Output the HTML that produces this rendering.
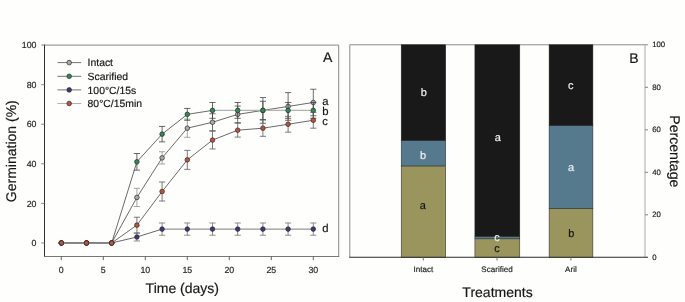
<!DOCTYPE html>
<html lang="en"><head><meta charset="utf-8"><title>Germination figure</title>
<style>html,body{margin:0;padding:0;background:#fefefd}svg{display:block;filter:blur(0.3px)}</style></head>
<body>
<svg width="685" height="302" viewBox="0 0 685 302" text-rendering="geometricPrecision" font-family="'Liberation Sans', sans-serif">
<rect width="685" height="302" fill="#fefefd"/>
<path d="M44.5 45.1H338.7V256.5" fill="none" stroke="#808080" stroke-width="0.95"/>
<path d="M44.5 44.6V256.5" fill="none" stroke="#2e2e2e" stroke-width="1"/>
<path d="M44.0 256.5H339.2" fill="none" stroke="#5e5e5e" stroke-width="0.85"/>
<path d="M41.3 242.95H44.5" stroke="#777" stroke-width="0.9"/>
<text x="36.5" y="246.15" font-size="8.8" text-anchor="end" fill="#262626" stroke="#262626" stroke-width="0.18">0</text>
<path d="M41.3 203.38H44.5" stroke="#777" stroke-width="0.9"/>
<text x="36.5" y="206.58" font-size="8.8" text-anchor="end" fill="#262626" stroke="#262626" stroke-width="0.18">20</text>
<path d="M41.3 163.81H44.5" stroke="#777" stroke-width="0.9"/>
<text x="36.5" y="167.01" font-size="8.8" text-anchor="end" fill="#262626" stroke="#262626" stroke-width="0.18">40</text>
<path d="M41.3 124.24H44.5" stroke="#777" stroke-width="0.9"/>
<text x="36.5" y="127.44" font-size="8.8" text-anchor="end" fill="#262626" stroke="#262626" stroke-width="0.18">60</text>
<path d="M41.3 84.67H44.5" stroke="#777" stroke-width="0.9"/>
<text x="36.5" y="87.87" font-size="8.8" text-anchor="end" fill="#262626" stroke="#262626" stroke-width="0.18">80</text>
<path d="M41.3 45.10H44.5" stroke="#777" stroke-width="0.9"/>
<text x="36.5" y="48.30" font-size="8.8" text-anchor="end" fill="#262626" stroke="#262626" stroke-width="0.18">100</text>
<path d="M61.30 256.5V260.1" stroke="#555" stroke-width="0.9"/>
<text x="61.30" y="272.8" font-size="8.8" text-anchor="middle" fill="#262626" stroke="#262626" stroke-width="0.18">0</text>
<path d="M103.30 256.5V260.1" stroke="#555" stroke-width="0.9"/>
<text x="103.30" y="272.8" font-size="8.8" text-anchor="middle" fill="#262626" stroke="#262626" stroke-width="0.18">5</text>
<path d="M145.30 256.5V260.1" stroke="#555" stroke-width="0.9"/>
<text x="145.30" y="272.8" font-size="8.8" text-anchor="middle" fill="#262626" stroke="#262626" stroke-width="0.18">10</text>
<path d="M187.30 256.5V260.1" stroke="#555" stroke-width="0.9"/>
<text x="187.30" y="272.8" font-size="8.8" text-anchor="middle" fill="#262626" stroke="#262626" stroke-width="0.18">15</text>
<path d="M229.30 256.5V260.1" stroke="#555" stroke-width="0.9"/>
<text x="229.30" y="272.8" font-size="8.8" text-anchor="middle" fill="#262626" stroke="#262626" stroke-width="0.18">20</text>
<path d="M271.30 256.5V260.1" stroke="#555" stroke-width="0.9"/>
<text x="271.30" y="272.8" font-size="8.8" text-anchor="middle" fill="#262626" stroke="#262626" stroke-width="0.18">25</text>
<path d="M313.30 256.5V260.1" stroke="#555" stroke-width="0.9"/>
<text x="313.30" y="272.8" font-size="8.8" text-anchor="middle" fill="#262626" stroke="#262626" stroke-width="0.18">30</text>
<text x="182.3" y="292.6" font-size="14" text-anchor="middle" fill="#181818" stroke="#181818" stroke-width="0.18">Time (days)</text>
<text transform="translate(16.4 151.2) rotate(-90)" font-size="14" text-anchor="middle" fill="#181818" stroke="#181818" stroke-width="0.18">Germination (%)</text>
<text x="323" y="62.3" font-size="14" fill="#181818" stroke="#181818" stroke-width="0.18">A</text>
<path d="M61.30 242.95L86.50 242.95" stroke="#7d7d7d" stroke-width="1"/>
<path d="M86.50 242.95L111.70 242.95" stroke="#7d7d7d" stroke-width="1"/>
<path d="M111.70 242.95L136.90 197.44" stroke="#2a2a2a" stroke-width="0.7"/>
<path d="M136.90 197.44L162.10 157.87" stroke="#2a2a2a" stroke-width="0.7"/>
<path d="M162.10 157.87L187.30 128.20" stroke="#2a2a2a" stroke-width="0.7"/>
<path d="M187.30 128.20L212.50 122.26" stroke="#2a2a2a" stroke-width="0.7"/>
<path d="M212.50 122.26L237.70 114.35" stroke="#2a2a2a" stroke-width="0.7"/>
<path d="M237.70 114.35L262.90 110.39" stroke="#2a2a2a" stroke-width="0.7"/>
<path d="M262.90 110.39L288.10 106.43" stroke="#2a2a2a" stroke-width="0.7"/>
<path d="M288.10 106.43L313.30 102.48" stroke="#2a2a2a" stroke-width="0.7"/>
<path d="M136.90 188.34V206.55M133.80 188.34h6.2M133.80 206.55h6.2" fill="none" stroke="#8f8f8f" stroke-width="0.8"/>
<path d="M162.10 151.74V164.01M159.00 151.74h6.2M159.00 164.01h6.2" fill="none" stroke="#8f8f8f" stroke-width="0.8"/>
<path d="M187.30 119.10V137.30M184.20 119.10h6.2M184.20 137.30h6.2" fill="none" stroke="#8f8f8f" stroke-width="0.8"/>
<path d="M212.50 113.75V130.77M209.40 113.75h6.2M209.40 130.77h6.2" fill="none" stroke="#4a4a4a" stroke-width="0.8"/>
<path d="M237.70 106.04V122.66M234.60 106.04h6.2M234.60 122.66h6.2" fill="none" stroke="#4a4a4a" stroke-width="0.8"/>
<path d="M262.90 97.53V123.25M259.80 97.53h6.2M259.80 123.25h6.2" fill="none" stroke="#4a4a4a" stroke-width="0.8"/>
<path d="M288.10 92.58V120.28M285.00 92.58h6.2M285.00 120.28h6.2" fill="none" stroke="#4a4a4a" stroke-width="0.8"/>
<path d="M313.30 89.22V115.73M310.20 89.22h6.2M310.20 115.73h6.2" fill="none" stroke="#4a4a4a" stroke-width="0.8"/>
<circle cx="61.30" cy="242.95" r="2.3" fill="#a9a9a9" stroke="#2a2a2a" stroke-width="0.7"/>
<circle cx="86.50" cy="242.95" r="2.3" fill="#a9a9a9" stroke="#2a2a2a" stroke-width="0.7"/>
<circle cx="111.70" cy="242.95" r="2.3" fill="#a9a9a9" stroke="#2a2a2a" stroke-width="0.7"/>
<circle cx="136.90" cy="197.44" r="2.3" fill="#a9a9a9" stroke="#2a2a2a" stroke-width="0.7"/>
<circle cx="162.10" cy="157.87" r="2.3" fill="#a9a9a9" stroke="#2a2a2a" stroke-width="0.7"/>
<circle cx="187.30" cy="128.20" r="2.3" fill="#a9a9a9" stroke="#2a2a2a" stroke-width="0.7"/>
<circle cx="212.50" cy="122.26" r="2.3" fill="#a9a9a9" stroke="#2a2a2a" stroke-width="0.7"/>
<circle cx="237.70" cy="114.35" r="2.3" fill="#a9a9a9" stroke="#2a2a2a" stroke-width="0.7"/>
<circle cx="262.90" cy="110.39" r="2.3" fill="#a9a9a9" stroke="#2a2a2a" stroke-width="0.7"/>
<circle cx="288.10" cy="106.43" r="2.3" fill="#a9a9a9" stroke="#2a2a2a" stroke-width="0.7"/>
<circle cx="313.30" cy="102.48" r="2.3" fill="#a9a9a9" stroke="#2a2a2a" stroke-width="0.7"/>
<path d="M61.30 242.95L86.50 242.95" stroke="#7d7d7d" stroke-width="1"/>
<path d="M86.50 242.95L111.70 242.95" stroke="#7d7d7d" stroke-width="1"/>
<path d="M111.70 242.95L136.90 161.83" stroke="#2a2a2a" stroke-width="0.7"/>
<path d="M136.90 161.83L162.10 134.13" stroke="#2a2a2a" stroke-width="0.7"/>
<path d="M162.10 134.13L187.30 114.35" stroke="#2a2a2a" stroke-width="0.7"/>
<path d="M187.30 114.35L212.50 110.39" stroke="#2a2a2a" stroke-width="0.7"/>
<path d="M212.50 110.39L237.70 110.39" stroke="#b2b2b2" stroke-width="1.3"/>
<path d="M237.70 110.39L262.90 110.39" stroke="#b2b2b2" stroke-width="1.3"/>
<path d="M262.90 110.39L288.10 110.39" stroke="#b2b2b2" stroke-width="1.3"/>
<path d="M288.10 110.39L313.30 110.39" stroke="#b2b2b2" stroke-width="1.3"/>
<path d="M136.90 153.52V170.14M133.80 153.52h6.2M133.80 170.14h6.2" fill="none" stroke="#404040" stroke-width="0.8"/>
<path d="M162.10 126.42V141.85M159.00 126.42h6.2M159.00 141.85h6.2" fill="none" stroke="#404040" stroke-width="0.8"/>
<path d="M187.30 108.41V120.28M184.20 108.41h6.2M184.20 120.28h6.2" fill="none" stroke="#404040" stroke-width="0.8"/>
<path d="M212.50 102.48V118.30M209.40 102.48h6.2M209.40 118.30h6.2" fill="none" stroke="#404040" stroke-width="0.8"/>
<path d="M237.70 102.48V118.30M234.60 102.48h6.2M234.60 118.30h6.2" fill="none" stroke="#404040" stroke-width="0.8"/>
<path d="M262.90 101.29V119.49M259.80 101.29h6.2M259.80 119.49h6.2" fill="none" stroke="#404040" stroke-width="0.8"/>
<path d="M288.10 102.48V118.30M285.00 102.48h6.2M285.00 118.30h6.2" fill="none" stroke="#404040" stroke-width="0.8"/>
<path d="M313.30 102.48V118.30M310.20 102.48h6.2M310.20 118.30h6.2" fill="none" stroke="#404040" stroke-width="0.8"/>
<circle cx="61.30" cy="242.95" r="2.3" fill="#2e8b52" stroke="#2a2a2a" stroke-width="0.7"/>
<circle cx="86.50" cy="242.95" r="2.3" fill="#2e8b52" stroke="#2a2a2a" stroke-width="0.7"/>
<circle cx="111.70" cy="242.95" r="2.3" fill="#2e8b52" stroke="#2a2a2a" stroke-width="0.7"/>
<circle cx="136.90" cy="161.83" r="2.3" fill="#2e8b52" stroke="#2a2a2a" stroke-width="0.7"/>
<circle cx="162.10" cy="134.13" r="2.3" fill="#2e8b52" stroke="#2a2a2a" stroke-width="0.7"/>
<circle cx="187.30" cy="114.35" r="2.3" fill="#2e8b52" stroke="#2a2a2a" stroke-width="0.7"/>
<circle cx="212.50" cy="110.39" r="2.3" fill="#2e8b52" stroke="#2a2a2a" stroke-width="0.7"/>
<circle cx="237.70" cy="110.39" r="2.3" fill="#2e8b52" stroke="#2a2a2a" stroke-width="0.7"/>
<circle cx="262.90" cy="110.39" r="2.3" fill="#2e8b52" stroke="#2a2a2a" stroke-width="0.7"/>
<circle cx="288.10" cy="110.39" r="2.3" fill="#2e8b52" stroke="#2a2a2a" stroke-width="0.7"/>
<circle cx="313.30" cy="110.39" r="2.3" fill="#2e8b52" stroke="#2a2a2a" stroke-width="0.7"/>
<path d="M61.30 242.95L86.50 242.95" stroke="#7d7d7d" stroke-width="1"/>
<path d="M86.50 242.95L111.70 242.95" stroke="#7d7d7d" stroke-width="1"/>
<path d="M111.70 242.95L136.90 237.01" stroke="#2a2a2a" stroke-width="0.7"/>
<path d="M136.90 237.01L162.10 229.10" stroke="#2a2a2a" stroke-width="0.7"/>
<path d="M162.10 229.10L187.30 229.10" stroke="#7d7d7d" stroke-width="1"/>
<path d="M187.30 229.10L212.50 229.10" stroke="#7d7d7d" stroke-width="1"/>
<path d="M212.50 229.10L237.70 229.10" stroke="#7d7d7d" stroke-width="1"/>
<path d="M237.70 229.10L262.90 229.10" stroke="#7d7d7d" stroke-width="1"/>
<path d="M262.90 229.10L288.10 229.10" stroke="#7d7d7d" stroke-width="1"/>
<path d="M288.10 229.10L313.30 229.10" stroke="#7d7d7d" stroke-width="1"/>
<path d="M136.90 233.06V240.97M133.80 233.06h6.2M133.80 240.97h6.2" fill="none" stroke="#707070" stroke-width="0.8"/>
<path d="M162.10 222.97V235.23M159.00 222.97h6.2M159.00 235.23h6.2" fill="none" stroke="#707070" stroke-width="0.8"/>
<path d="M187.30 222.97V235.23M184.20 222.97h6.2M184.20 235.23h6.2" fill="none" stroke="#707070" stroke-width="0.8"/>
<path d="M212.50 222.97V235.23M209.40 222.97h6.2M209.40 235.23h6.2" fill="none" stroke="#707070" stroke-width="0.8"/>
<path d="M237.70 222.97V235.23M234.60 222.97h6.2M234.60 235.23h6.2" fill="none" stroke="#707070" stroke-width="0.8"/>
<path d="M262.90 222.97V235.23M259.80 222.97h6.2M259.80 235.23h6.2" fill="none" stroke="#707070" stroke-width="0.8"/>
<path d="M288.10 222.97V235.23M285.00 222.97h6.2M285.00 235.23h6.2" fill="none" stroke="#707070" stroke-width="0.8"/>
<path d="M313.30 222.97V235.23M310.20 222.97h6.2M310.20 235.23h6.2" fill="none" stroke="#707070" stroke-width="0.8"/>
<circle cx="61.30" cy="242.95" r="2.3" fill="#46337f" stroke="#2a2a2a" stroke-width="0.7"/>
<circle cx="86.50" cy="242.95" r="2.3" fill="#46337f" stroke="#2a2a2a" stroke-width="0.7"/>
<circle cx="111.70" cy="242.95" r="2.3" fill="#46337f" stroke="#2a2a2a" stroke-width="0.7"/>
<circle cx="136.90" cy="237.01" r="2.3" fill="#46337f" stroke="#2a2a2a" stroke-width="0.7"/>
<circle cx="162.10" cy="229.10" r="2.3" fill="#46337f" stroke="#2a2a2a" stroke-width="0.7"/>
<circle cx="187.30" cy="229.10" r="2.3" fill="#46337f" stroke="#2a2a2a" stroke-width="0.7"/>
<circle cx="212.50" cy="229.10" r="2.3" fill="#46337f" stroke="#2a2a2a" stroke-width="0.7"/>
<circle cx="237.70" cy="229.10" r="2.3" fill="#46337f" stroke="#2a2a2a" stroke-width="0.7"/>
<circle cx="262.90" cy="229.10" r="2.3" fill="#46337f" stroke="#2a2a2a" stroke-width="0.7"/>
<circle cx="288.10" cy="229.10" r="2.3" fill="#46337f" stroke="#2a2a2a" stroke-width="0.7"/>
<circle cx="313.30" cy="229.10" r="2.3" fill="#46337f" stroke="#2a2a2a" stroke-width="0.7"/>
<path d="M61.30 242.95L86.50 242.95" stroke="#7d7d7d" stroke-width="1"/>
<path d="M86.50 242.95L111.70 242.95" stroke="#7d7d7d" stroke-width="1"/>
<path d="M111.70 242.95L136.90 225.14" stroke="#2a2a2a" stroke-width="0.7"/>
<path d="M136.90 225.14L162.10 191.51" stroke="#2a2a2a" stroke-width="0.7"/>
<path d="M162.10 191.51L187.30 159.85" stroke="#2a2a2a" stroke-width="0.7"/>
<path d="M187.30 159.85L212.50 140.07" stroke="#2a2a2a" stroke-width="0.7"/>
<path d="M212.50 140.07L237.70 130.18" stroke="#2a2a2a" stroke-width="0.7"/>
<path d="M237.70 130.18L262.90 128.20" stroke="#2a2a2a" stroke-width="0.7"/>
<path d="M262.90 128.20L288.10 124.24" stroke="#2a2a2a" stroke-width="0.7"/>
<path d="M288.10 124.24L313.30 120.28" stroke="#2a2a2a" stroke-width="0.7"/>
<path d="M136.90 217.23V233.06M133.80 217.23h6.2M133.80 233.06h6.2" fill="none" stroke="#5a5a5a" stroke-width="0.8"/>
<path d="M162.10 182.01V201.01M159.00 182.01h6.2M159.00 201.01h6.2" fill="none" stroke="#5a5a5a" stroke-width="0.8"/>
<path d="M187.30 150.36V169.35M184.20 150.36h6.2M184.20 169.35h6.2" fill="none" stroke="#5a5a5a" stroke-width="0.8"/>
<path d="M212.50 131.16V148.97M209.40 131.16h6.2M209.40 148.97h6.2" fill="none" stroke="#5a5a5a" stroke-width="0.8"/>
<path d="M237.70 123.25V137.10M234.60 123.25h6.2M234.60 137.10h6.2" fill="none" stroke="#5a5a5a" stroke-width="0.8"/>
<path d="M262.90 120.09V136.31M259.80 120.09h6.2M259.80 136.31h6.2" fill="none" stroke="#5a5a5a" stroke-width="0.8"/>
<path d="M288.10 116.33V132.15M285.00 116.33h6.2M285.00 132.15h6.2" fill="none" stroke="#5a5a5a" stroke-width="0.8"/>
<path d="M313.30 112.37V128.20M310.20 112.37h6.2M310.20 128.20h6.2" fill="none" stroke="#5a5a5a" stroke-width="0.8"/>
<circle cx="61.30" cy="242.95" r="2.3" fill="#c44f33" stroke="#2a2a2a" stroke-width="0.7"/>
<circle cx="86.50" cy="242.95" r="2.3" fill="#c44f33" stroke="#2a2a2a" stroke-width="0.7"/>
<circle cx="111.70" cy="242.95" r="2.3" fill="#c44f33" stroke="#2a2a2a" stroke-width="0.7"/>
<circle cx="136.90" cy="225.14" r="2.3" fill="#c44f33" stroke="#2a2a2a" stroke-width="0.7"/>
<circle cx="162.10" cy="191.51" r="2.3" fill="#c44f33" stroke="#2a2a2a" stroke-width="0.7"/>
<circle cx="187.30" cy="159.85" r="2.3" fill="#c44f33" stroke="#2a2a2a" stroke-width="0.7"/>
<circle cx="212.50" cy="140.07" r="2.3" fill="#c44f33" stroke="#2a2a2a" stroke-width="0.7"/>
<circle cx="237.70" cy="130.18" r="2.3" fill="#c44f33" stroke="#2a2a2a" stroke-width="0.7"/>
<circle cx="262.90" cy="128.20" r="2.3" fill="#c44f33" stroke="#2a2a2a" stroke-width="0.7"/>
<circle cx="288.10" cy="124.24" r="2.3" fill="#c44f33" stroke="#2a2a2a" stroke-width="0.7"/>
<circle cx="313.30" cy="120.28" r="2.3" fill="#c44f33" stroke="#2a2a2a" stroke-width="0.7"/>
<path d="M57.4 62.6H81.2" stroke="#5c5c5c" stroke-width="0.85"/>
<circle cx="69.2" cy="62.6" r="2.3" fill="#a9a9a9" stroke="#2a2a2a" stroke-width="0.7"/>
<text x="87.6" y="66.40" font-size="10.4" fill="#181818" stroke="#181818" stroke-width="0.18">Intact</text>
<path d="M57.4 76.3H81.2" stroke="#5c5c5c" stroke-width="0.85"/>
<circle cx="69.2" cy="76.3" r="2.3" fill="#2e8b52" stroke="#2a2a2a" stroke-width="0.7"/>
<text x="87.6" y="80.10" font-size="10.4" fill="#181818" stroke="#181818" stroke-width="0.18">Scarified</text>
<path d="M57.4 89.9H81.2" stroke="#5c5c5c" stroke-width="0.85"/>
<circle cx="69.2" cy="89.9" r="2.3" fill="#46337f" stroke="#2a2a2a" stroke-width="0.7"/>
<text x="87.6" y="93.70" font-size="10.4" fill="#181818" stroke="#181818" stroke-width="0.18">100°C/15s</text>
<path d="M57.4 103.5H81.2" stroke="#a4a4a4" stroke-width="0.85"/>
<circle cx="69.2" cy="103.5" r="2.3" fill="#c44f33" stroke="#2a2a2a" stroke-width="0.7"/>
<text x="87.6" y="107.30" font-size="10.4" fill="#181818" stroke="#181818" stroke-width="0.18">80°C/15min</text>
<text x="322.2" y="104.6" font-size="11.3" fill="#181818" stroke="#181818" stroke-width="0.18">a</text>
<text x="322.2" y="115.3" font-size="11.3" fill="#181818" stroke="#181818" stroke-width="0.18">b</text>
<text x="322.2" y="124.5" font-size="11.3" fill="#181818" stroke="#181818" stroke-width="0.18">c</text>
<text x="322.2" y="231.9" font-size="11.3" fill="#181818" stroke="#181818" stroke-width="0.18">d</text>
<path d="M349.8 257.3V44.8H648.0" fill="none" stroke="#8c8c8c" stroke-width="1"/>
<path d="M645.0 44.8V257.3" fill="none" stroke="#a0a0a0" stroke-width="0.9"/>
<rect x="401.2" y="165.93" width="44.50" height="91.38" fill="#99955d" stroke="#222" stroke-width="0.5"/>
<rect x="401.2" y="140.43" width="44.50" height="25.50" fill="#557a8e" stroke="#222" stroke-width="0.5"/>
<rect x="401.2" y="44.80" width="44.50" height="95.62" fill="#191919" stroke="#222" stroke-width="0.5"/>
<rect x="474.9" y="238.81" width="44.90" height="18.49" fill="#99955d" stroke="#222" stroke-width="0.5"/>
<rect x="474.9" y="236.26" width="44.90" height="2.55" fill="#557a8e" stroke="#222" stroke-width="0.5"/>
<rect x="474.9" y="44.80" width="44.90" height="191.46" fill="#191919" stroke="#222" stroke-width="0.5"/>
<rect x="549.1" y="208.43" width="43.80" height="48.88" fill="#99955d" stroke="#222" stroke-width="0.5"/>
<rect x="549.1" y="125.55" width="43.80" height="82.88" fill="#557a8e" stroke="#222" stroke-width="0.5"/>
<rect x="549.1" y="44.80" width="43.80" height="80.75" fill="#191919" stroke="#222" stroke-width="0.5"/>
<path d="M349.3 257.3H648.0" fill="none" stroke="#2a2a2a" stroke-width="1.1"/>
<text x="652.2" y="259.80" font-size="7.8" fill="#262626" stroke="#262626" stroke-width="0.18">0</text>
<path d="M645.0 214.80h3" stroke="#777" stroke-width="0.9"/>
<text x="652.2" y="217.30" font-size="7.8" fill="#262626" stroke="#262626" stroke-width="0.18">20</text>
<path d="M645.0 172.30h3" stroke="#777" stroke-width="0.9"/>
<text x="652.2" y="174.80" font-size="7.8" fill="#262626" stroke="#262626" stroke-width="0.18">40</text>
<path d="M645.0 129.80h3" stroke="#777" stroke-width="0.9"/>
<text x="652.2" y="132.30" font-size="7.8" fill="#262626" stroke="#262626" stroke-width="0.18">60</text>
<path d="M645.0 87.30h3" stroke="#777" stroke-width="0.9"/>
<text x="652.2" y="89.80" font-size="7.8" fill="#262626" stroke="#262626" stroke-width="0.18">80</text>
<text x="652.2" y="47.30" font-size="7.8" fill="#262626" stroke="#262626" stroke-width="0.18">100</text>
<path d="M423.3 257.3v3.2" stroke="#666" stroke-width="0.9"/>
<text x="423.3" y="272.3" font-size="8.05" text-anchor="middle" fill="#262626" stroke="#262626" stroke-width="0.18">Intact</text>
<path d="M497.0 257.3v3.2" stroke="#666" stroke-width="0.9"/>
<text x="497.0" y="272.3" font-size="8.05" text-anchor="middle" fill="#262626" stroke="#262626" stroke-width="0.18">Scarified</text>
<path d="M570.9 257.3v3.2" stroke="#666" stroke-width="0.9"/>
<text x="570.9" y="272.3" font-size="8.05" text-anchor="middle" fill="#262626" stroke="#262626" stroke-width="0.18">Aril</text>
<text x="497.5" y="296.8" font-size="14" text-anchor="middle" fill="#181818" stroke="#181818" stroke-width="0.18">Treatments</text>
<text transform="translate(670.4 151.3) rotate(90)" font-size="14.1" text-anchor="middle" fill="#181818" stroke="#181818" stroke-width="0.18">Percentage</text>
<text x="629.3" y="62.6" font-size="14" fill="#181818" stroke="#181818" stroke-width="0.18">B</text>
<text x="423.7" y="96.0" font-size="11" text-anchor="middle" fill="#eee" stroke="#eee" stroke-width="0.18">b</text>
<text x="423.0" y="158.7" font-size="11" text-anchor="middle" fill="#eee" stroke="#eee" stroke-width="0.18">b</text>
<text x="422.7" y="209.4" font-size="11" text-anchor="middle" fill="#181818" stroke="#181818" stroke-width="0.18">a</text>
<text x="497.7" y="141.4" font-size="11" text-anchor="middle" fill="#eee" stroke="#eee" stroke-width="0.18">a</text>
<text x="496.9" y="241.0" font-size="11" text-anchor="middle" fill="#eee" stroke="#eee" stroke-width="0.18">c</text>
<text x="496.9" y="252.3" font-size="11" text-anchor="middle" fill="#181818" stroke="#181818" stroke-width="0.18">c</text>
<text x="570.8" y="88.9" font-size="11" text-anchor="middle" fill="#eee" stroke="#eee" stroke-width="0.18">c</text>
<text x="571.0" y="170.9" font-size="11" text-anchor="middle" fill="#eee" stroke="#eee" stroke-width="0.18">a</text>
<text x="571.2" y="236.9" font-size="11" text-anchor="middle" fill="#181818" stroke="#181818" stroke-width="0.18">b</text>
</svg>
</body></html>
